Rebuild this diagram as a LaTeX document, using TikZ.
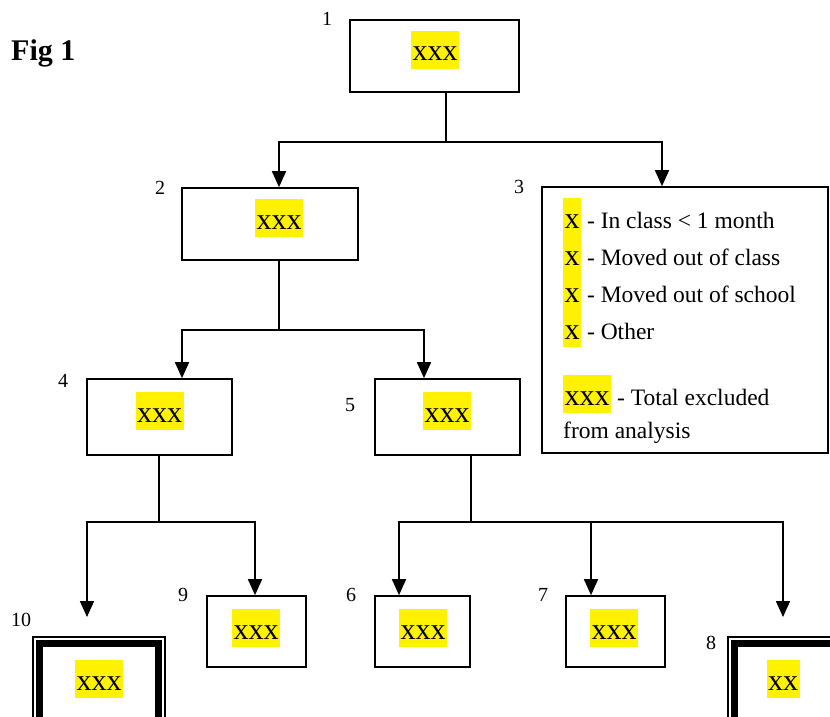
\documentclass[tikz,border=0pt]{standalone}
\usepackage{fontspec}
\setmainfont{Liberation Serif}
\usetikzlibrary{arrows.meta}
\newcommand{\hlx}[1]{{\setlength\fboxsep{0pt}\colorbox{yellow}{\rule[-8pt]{0pt}{38pt}\kern1.5pt\fontsize{30}{32}\selectfont #1\kern1.5pt}}}
\begin{document}
\begin{tikzpicture}[x=1pt,y=-1pt,
  box/.style={draw,line width=1.7pt,inner sep=0pt},
  dbox/.style={draw,line width=1.7pt,inner sep=0pt,minimum width=132pt,minimum height=90pt},
  txt/.style={inner sep=0pt},
  num/.style={inner sep=0pt,font=\fontsize{20}{24}\selectfont},
  leg/.style={anchor=base west,inner sep=0pt,font=\fontsize{23.5}{27}\selectfont},
  ln/.style={line width=1.7pt},
  arr/.style={line width=1.7pt,-{Triangle[width=14pt,length=16pt]}}]
\useasboundingbox (0,0) rectangle (830,717);
\fill[white] (0,0) rectangle (830,717);

% title
\node[anchor=base west,inner sep=0pt,font=\fontsize{30}{34}\selectfont\bfseries] (fig) at (11,60) {Fig 1};

% boxes
\node[box,minimum width=169pt,minimum height=72pt] (b1) at (434.5,56) {};
\node[box,minimum width=176pt,minimum height=72pt] (b2) at (270,224) {};
\node[box,minimum width=286pt,minimum height=266pt] (b3) at (685,320) {};
\node[box,minimum width=145pt,minimum height=76pt] (b4) at (159.5,417) {};
\node[box,minimum width=145pt,minimum height=76pt] (b5) at (447.5,417) {};
\node[box,minimum width=99pt,minimum height=71pt] (b9) at (256.5,631.5) {};
\node[box,minimum width=95pt,minimum height=71pt] (b6) at (422.5,631.5) {};
\node[box,minimum width=99pt,minimum height=71pt] (b7) at (615.5,631.5) {};
\node[dbox] (b10) at (99,682) {};
\draw[line width=7.5pt] ([shift={(7.5,7.5)}]b10.north west) rectangle ([shift={(-7.5,-7.5)}]b10.south east);
\node[dbox] (b8) at (794,682) {};
\draw[line width=7.5pt] ([shift={(7.5,7.5)}]b8.north west) rectangle ([shift={(-7.5,-7.5)}]b8.south east);

% box texts
\node[txt] (t1) at (435,50) {\hlx{xxx}};
\node[txt] (t2) at (279,218) {\hlx{xxx}};
\node[txt] (t4) at (159.5,411) {\hlx{xxx}};
\node[txt] (t5) at (447,411) {\hlx{xxx}};
\node[txt] (t9) at (256,628) {\hlx{xxx}};
\node[txt] (t6) at (423,628) {\hlx{xxx}};
\node[txt] (t7) at (614,628) {\hlx{xxx}};
\node[txt] (t10) at (99,679) {\hlx{xxx}};
\node[txt] (t8) at (783,679) {\hlx{xx}};

% legend
\node[leg] (l1) at (563,228) {\hlx{x} - In class < 1 month};
\node[leg] (l2) at (563,265) {\hlx{x} - Moved out of class};
\node[leg] (l3) at (563,302) {\hlx{x} - Moved out of school};
\node[leg] (l4) at (563,339) {\hlx{x} - Other};
\node[leg] (l5) at (563,405) {\hlx{xxx} - Total excluded};
\node[leg] (l6) at (563,438) {from analysis};

% numbers
\node[num] (n1) at (327,19) {1};
\node[num] (n2) at (160,188) {2};
\node[num] (n3) at (519,187) {3};
\node[num] (n4) at (63,381) {4};
\node[num] (n5) at (350,405) {5};
\node[num] (n9) at (183,595) {9};
\node[num] (n10) at (21,620) {10};
\node[num] (n6) at (351,595) {6};
\node[num] (n7) at (543,595) {7};
\node[num] (n8) at (711,643) {8};

% connectors
\coordinate (j1) at (446,142);
\draw[ln] (j1 |- b1.south) -- (j1);
\draw[arr] (j1) -| ([xshift=9pt]b2.north);
\draw[arr] (j1) -| ([xshift=-23pt]b3.north);

\coordinate (j2) at (279,330);
\draw[ln] (j2 |- b2.south) -- (j2);
\draw[arr] (j2) -| ([xshift=22.5pt]b4.north);
\draw[arr] (j2) -| ([xshift=-23.5pt]b5.north);

\coordinate (j4) at (159,522);
\coordinate (e10) at (87,617);
\draw[ln] (j4 |- b4.south) -- (j4);
\draw[arr] (j4) -| (e10);
\draw[arr] (j4) -| ([xshift=-1.5pt]b9.north);

\coordinate (j5) at (471,522);
\coordinate (e8) at (783,617);
\draw[ln] (j5 |- b5.south) -- (j5);
\draw[arr] (j5) -| ([xshift=-23.5pt]b6.north);
\draw[arr] (j5) -| ([xshift=-24.5pt]b7.north);
\draw[arr] (j5) -| (e8);
\end{tikzpicture}
\end{document}
